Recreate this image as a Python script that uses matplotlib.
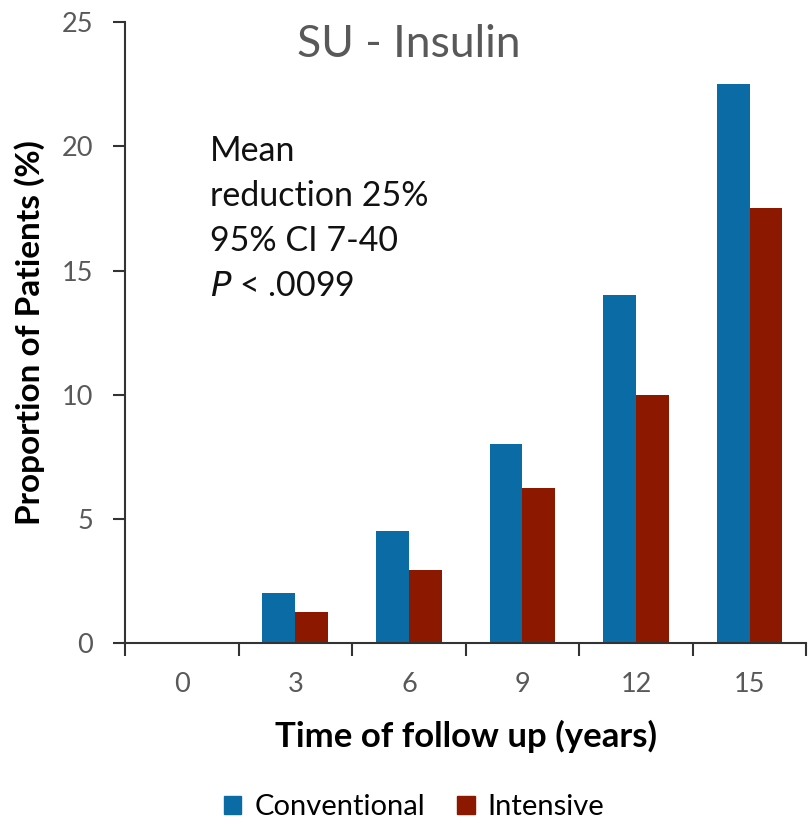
import matplotlib
matplotlib.use("Agg")
import matplotlib.pyplot as plt
import numpy as np
from matplotlib.patches import Patch

plt.rcParams['font.family'] = ['Lato', 'DejaVu Sans']

years = ["0", "3", "6", "9", "12", "15"]
conventional = [0, 2.0, 4.5, 8.0, 14.0, 22.5]
intensive = [0, 1.25, 2.95, 6.25, 10.0, 17.5]

blue = "#0B6BA5"
red = "#8C1800"
grey = "#595959"

fig = plt.figure(figsize=(8.12, 8.25), dpi=100)
ax = fig.add_axes([0.154, 0.2206, 0.839, 0.7524])

x = np.arange(len(years))
w = 0.29
ax.bar(x - w / 2, conventional, width=w, color=blue, label="Conventional")
ax.bar(x + w / 2, intensive, width=w, color=red, label="Intensive")

ax.set_xlim(-0.5, len(years) - 0.5)
ax.set_ylim(0, 25)
ax.set_yticks([0, 5, 10, 15, 20, 25])

# category labels centred, tick marks on the category boundaries
ax.set_xticks(x)
ax.set_xticklabels(years)
ax.set_xticks(np.arange(-0.5, len(years)), minor=True)
ax.tick_params(axis="x", which="major", length=0, pad=21, labelsize=19.5, labelcolor=grey)
ax.tick_params(axis="x", which="minor", length=9, width=1.5, direction="out", color="#333333")
ax.tick_params(axis="y", length=9, width=1.5, direction="out", labelsize=19.5,
               labelcolor=grey, color="#333333", pad=14)

for s in ["top", "right"]:
    ax.spines[s].set_visible(False)
for s in ["left", "bottom"]:
    ax.spines[s].set_linewidth(1.5)
    ax.spines[s].set_color("#333333")

ax.set_ylabel("Proportion of Patients (%)", fontsize=24, fontweight="bold", labelpad=12)
ax.set_xlabel("Time of follow up (years)", fontsize=25, fontweight="bold", labelpad=16)

ax.text(0.416, 0.965, "SU - Insulin", transform=ax.transAxes, ha="center", va="center",
        fontsize=32, color=grey)

ax.text(0.125, 0.684, "Mean\nreduction 25%\n95% CI 7-40\n$\\mathit{P}$ < .0099",
        transform=ax.transAxes, ha="left", va="center", fontsize=24.5, color="#111111",
        linespacing=1.5)

handles = [Patch(color=blue), Patch(color=red)]
fig.legend(handles, ["Conventional", "Intensive"], loc="lower center",
           bbox_to_anchor=(0.51, -0.026), ncol=2, frameon=False, fontsize=21,
           handlelength=0.6, handleheight=0.6, handletextpad=0.45, columnspacing=1.1)

fig.savefig("out.png", dpi=100)
